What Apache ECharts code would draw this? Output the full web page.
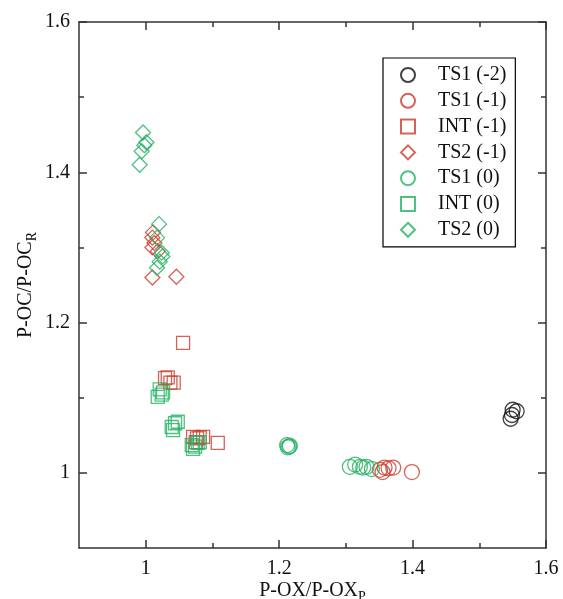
<!DOCTYPE html>
<html><head><meta charset="utf-8">
<script src="https://cdn.jsdelivr.net/npm/echarts@6/dist/echarts.min.js"></script>
<style>html,body{margin:0;padding:0;background:#fff}#c{width:563px;height:599px}</style>
</head><body><div id="c"></div>
<script>
var xTicks = [1, 1.2, 1.4, 1.6];
var yTicks = [1, 1.2, 1.4, 1.6];
var minorTicks = [1.1, 1.3, 1.5];
var ts1m2 = [[1.550,1.084],[1.549,1.077],[1.547,1.072],[1.556,1.082]];
var ts1m1 = [[1.351,1.004],[1.358,1.007],[1.355,1.001],[1.364,1.006],[1.371,1.007],[1.399,1.001]];
var intm1 = [[1.056,1.173],[1.029,1.126],[1.033,1.127],[1.037,1.120],[1.042,1.120],[1.071,1.048],[1.077,1.046],[1.081,1.047],[1.086,1.048],[1.075,1.041],[1.108,1.040]];
var ts2m1 = [[1.011,1.320],[1.010,1.313],[1.013,1.306],[1.010,1.300],[1.018,1.295],[1.010,1.260],[1.046,1.261]];
var ts10 = [[1.212,1.037],[1.215,1.035],[1.213,1.034],[1.216,1.036],[1.306,1.008],[1.314,1.011],[1.321,1.008],[1.326,1.007],[1.331,1.008],[1.339,1.005]];
var int0 = [[1.021,1.111],[1.026,1.107],[1.018,1.101],[1.024,1.104],[1.044,1.066],[1.039,1.061],[1.048,1.068],[1.041,1.057],[1.069,1.037],[1.074,1.035],[1.078,1.040],[1.081,1.041],[1.071,1.032]];
var ts20 = [[0.996,1.453],[1.001,1.440],[0.998,1.436],[0.994,1.428],[0.991,1.410],[1.020,1.331],[1.017,1.313],[1.024,1.293],[1.025,1.288],[1.021,1.281],[1.017,1.273]];

var BLACK='#111', RED='#cc3b2b', GREEN='#22b163';
function ser(name, data, sym, color, size){
  return {name:name, type:'scatter', data:data, symbol:sym, symbolSize:size,
    itemStyle:{color:'rgba(0,0,0,0)', borderColor:color, borderWidth:1.3}, xAxisIndex:0, yAxisIndex:0};
}
var font = 'Liberation Serif, Times New Roman, serif';
var axisCol = '#333';
function ax(position, ticks, len, showLine, labels, extra){
  var a = {type:'value', min:0.9, max:1.6, position:position,
    axisLine:{show:showLine, onZero:false, lineStyle:{color:axisCol, width:1.5}},
    axisTick:{show:true, inside:true, length:len, customValues:ticks, lineStyle:{color:axisCol, width:1.5}},
    splitLine:{show:false},
    axisLabel:labels ? {show:true, customValues:ticks, fontFamily:font, fontSize:20, color:'#111',
       formatter:function(v){ return String(Math.round(v*10)/10); }} : {show:false}
  };
  if (extra) for (var k in extra) a[k]=extra[k];
  return a;
}
var chart = echarts.init(document.getElementById('c'));
var xMain = ax('bottom', xTicks, 8, true, true, {name:'{a|P-OX/P-OX}{s|P}', nameLocation:'middle', nameGap:30, nameMoveOverlap:false,
  nameTextStyle:{rich:{a:{fontFamily:font,fontSize:20,color:'#111'}, s:{fontFamily:font,fontSize:14,color:'#111',padding:[12,0,0,0]}}}});
xMain.axisLabel.margin = 11;
var yMain = ax('left', yTicks, 8, true, true, {name:'{a|P-OC/P-OC}{s|R}', nameLocation:'middle', nameGap:40, nameMoveOverlap:false,
  nameTextStyle:{rich:{a:{fontFamily:font,fontSize:20,color:'#111'}, s:{fontFamily:font,fontSize:14,color:'#111',padding:[12,0,0,0]}}}});
yMain.axisLabel.margin = 9;
chart.setOption({
  animation:false,
  grid:{left:79, right:17, top:22, bottom:51, containLabel:false, outerBoundsMode:'none'},
  xAxis:[ xMain, ax('bottom', minorTicks, 5, false, false), ax('top', xTicks, 8, true, false), ax('top', minorTicks, 5, false, false) ],
  yAxis:[ yMain, ax('left', minorTicks, 5, false, false), ax('right', yTicks, 8, true, false), ax('right', minorTicks, 5, false, false) ],
  legend:{orient:'vertical', left:383, top:58, itemWidth:14, itemHeight:14, itemGap:5.8,
    padding:[7,9,7,17], borderColor:'#000', borderWidth:1.2, backgroundColor:'#fff',
    textStyle:{fontFamily:font, fontSize:20, color:'#111', padding:[0,0,0,18]},
    data:['TS1 (-2)','TS1 (-1)','INT (-1)','TS2 (-1)','TS1 (0)','INT (0)','TS2 (0)']},
  series:[
    ser('TS1 (-2)', ts1m2, 'circle', BLACK, 15),
    ser('TS1 (-1)', ts1m1, 'circle', RED, 15),
    ser('INT (-1)', intm1, 'rect', RED, 13),
    ser('TS2 (-1)', ts2m1, 'diamond', RED, 15),
    ser('TS1 (0)', ts10, 'circle', GREEN, 15),
    ser('INT (0)', int0, 'rect', GREEN, 13),
    ser('TS2 (0)', ts20, 'diamond', GREEN, 15)
  ]
});
</script></body></html>
